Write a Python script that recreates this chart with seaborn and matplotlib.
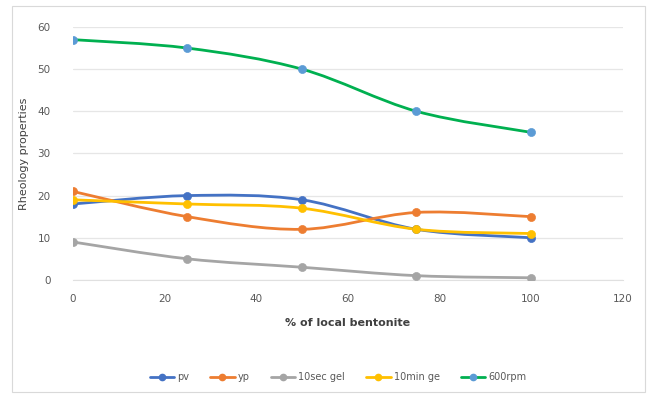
import numpy as np
import pandas as pd
import matplotlib.pyplot as plt
import seaborn as sns
from matplotlib.path import Path
from matplotlib.patches import PathPatch, Rectangle

# Dados
bentonite = [0, 25, 50, 75, 100]
pv = [18, 20, 19, 12, 10]
yp = [21, 15, 12, 16, 15]
gel_10sec = [9, 5, 3, 1, 0.5]
gel_10min = [19, 18, 17, 12, 11]
rpm_600 = [57, 55, 50, 40, 35]

series_names = ['pv', 'yp', '10sec gel', '10min ge', '600rpm']
line_colors = ['#4472C4', '#ED7D31', '#A5A5A5', '#FFC000', '#00B050']
marker_colors = ['#4472C4', '#ED7D31', '#A5A5A5', '#FFC000', '#5B9BD5']

df = pd.DataFrame({'x': bentonite, 'pv': pv, 'yp': yp, '10sec gel': gel_10sec,
                   '10min ge': gel_10min, '600rpm': rpm_600})
df_long = df.melt(id_vars='x', var_name='serie', value_name='valor')


# Curva suave estilo Excel (Bezier tipo Catmull-Rom)
def smooth_path(xs, ys, t=1/6):
    pts = np.column_stack([xs, ys]).astype(float)
    verts = [pts[0]]
    codes = [Path.MOVETO]
    n = len(pts)
    for i in range(n - 1):
        p0 = pts[i - 1] if i > 0 else pts[i]
        p1 = pts[i]
        p2 = pts[i + 1]
        p3 = pts[i + 2] if i + 2 < n else pts[i + 1]
        c1 = p1 + (p2 - p0) * t
        c2 = p2 - (p3 - p1) * t
        verts += [c1, c2, p2]
        codes += [Path.CURVE4] * 3
    return Path(verts, codes)


sns.set_style('white')
fig, ax = plt.subplots(figsize=(6.5, 3.97), dpi=100)
fig.subplots_adjust(left=0.112, right=0.958, top=0.932, bottom=0.295)

# moldura externa
fig.patches.append(Rectangle((0.018, 0.012), 0.975, 0.972, transform=fig.transFigure,
                             fill=False, edgecolor='#D9D9D9', linewidth=0.8))

for nome, lc, mc in zip(series_names, line_colors, marker_colors):
    sub = df_long[df_long['serie'] == nome]
    ax.add_patch(PathPatch(smooth_path(sub['x'].values, sub['valor'].values),
                           facecolor='none', edgecolor=lc, linewidth=2.0, zorder=3))
    sns.scatterplot(x=sub['x'], y=sub['valor'], color=mc, s=34, edgecolor=mc,
                    ax=ax, zorder=4, legend=False)

ax.set_xlim(0, 120)
ax.set_ylim(0, 60)
ax.set_xticks(range(0, 121, 20))
ax.set_yticks(range(0, 61, 10))
ax.yaxis.grid(True, color='#E6E6E6', linewidth=0.9)
ax.set_axisbelow(True)
for s in ['top', 'right', 'left']:
    ax.spines[s].set_visible(False)
ax.spines['bottom'].set_color('#E0E0E0')
ax.tick_params(axis='both', length=0, labelsize=7.5, colors='#595959', pad=10)
ax.tick_params(axis='y', pad=16)
ax.set_xlabel('% of local bentonite', fontsize=8, color='#404040', fontweight='bold', labelpad=10)
ax.set_ylabel('Rheology properties', fontsize=8, color='#404040', labelpad=6)

# legenda
handles = [plt.Line2D([], [], color=lc, marker='o', markersize=4.5, markerfacecolor=mc,
                      markeredgecolor=mc, linewidth=2) for lc, mc in zip(line_colors, marker_colors)]
fig.legend(handles, series_names, loc='center', bbox_to_anchor=(0.52, 0.05), ncol=5,
           frameon=False, fontsize=7, labelcolor='#595959', handlelength=2.5,
           columnspacing=2.2, handletextpad=0.3)

plt.savefig('out.png', dpi=100)
